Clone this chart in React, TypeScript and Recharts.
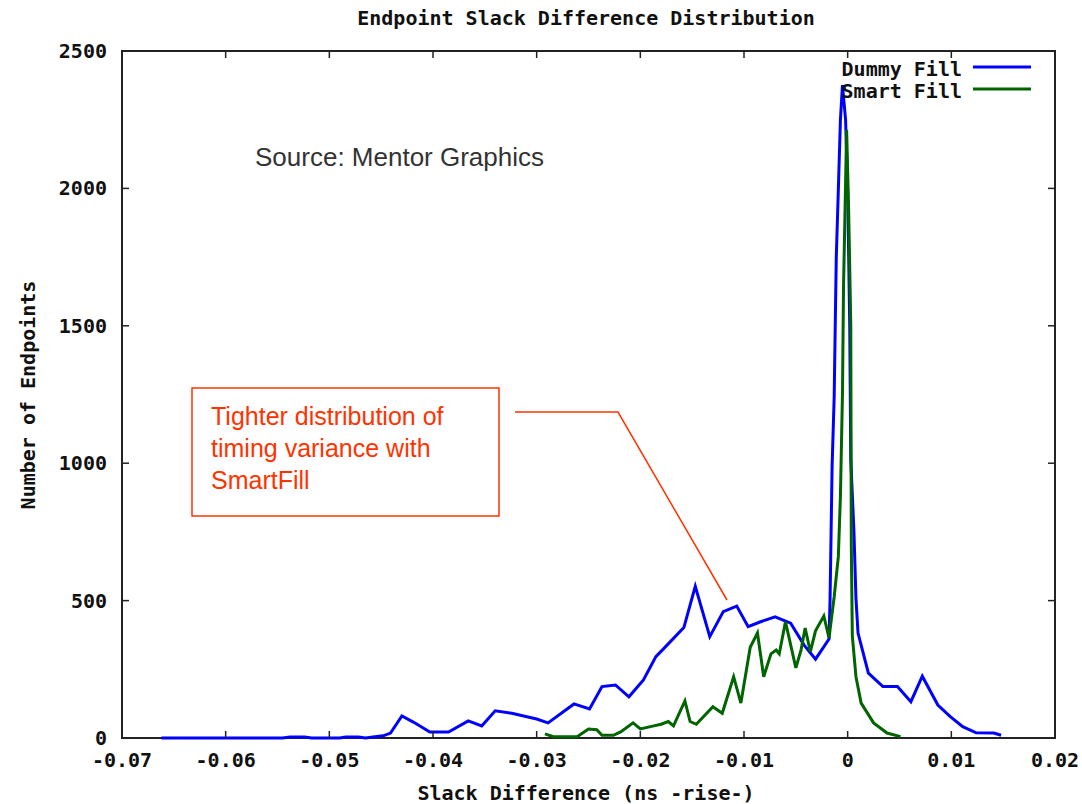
import { LineChart, Line, XAxis, YAxis, ReferenceArea } from "recharts";

// Dummy Fill (blue) – slack difference (ns) and endpoint count
const dummyX = [
  -0.0662, -0.0545, -0.0538, -0.0524, -0.0517, -0.049, -0.0484, -0.0472, -0.0465, -0.0458,
  -0.0448, -0.0441, -0.043, -0.0419, -0.0403, -0.0385, -0.0366, -0.0353, -0.034, -0.0324,
  -0.03, -0.0289, -0.0264, -0.0249, -0.0237, -0.0224, -0.0211, -0.0197, -0.0185, -0.0177,
  -0.0158, -0.0147, -0.0133, -0.012, -0.0107, -0.0096, -0.0084, -0.007, -0.0055, -0.0042,
  -0.0031, -0.0018, -0.0017, -0.0016, -0.0015, -0.0013, -0.0012, -0.0011, -0.0009, -0.0007,
  -0.0005, -0.0002, 0.0, 0.0002, 0.0003, 0.0006, 0.0008, 0.001, 0.002, 0.0034,
  0.0048, 0.0061, 0.0072, 0.0087, 0.0099, 0.0111, 0.0124, 0.0141, 0.0148,
];
const dummyY = [
  0, 0, 4, 4, 0, 0, 4, 4, 0, 4,
  8, 18, 80, 58, 22, 22, 62, 44, 99, 90,
  69, 55, 124, 106, 187, 193, 150, 211, 296, 327,
  402, 552, 369, 460, 480, 405, 423, 441, 418, 338,
  287, 360, 500, 746, 990, 1242, 1497, 1747, 1994, 2249,
  2376, 2249, 1994, 1500, 1012, 757, 509, 382, 236, 187,
  187, 132, 225, 120, 78, 41, 19, 18, 10,
];

// Smart Fill (green)
const smartX = [
  -0.0292, -0.0284, -0.0261, -0.025, -0.0242, -0.0237, -0.0226, -0.0219, -0.0207, -0.02,
  -0.0187, -0.018, -0.0173, -0.0168, -0.0157, -0.0152, -0.0146, -0.013, -0.0121, -0.011,
  -0.0103, -0.0094, -0.0087, -0.0081, -0.0074, -0.0069, -0.0066, -0.006, -0.005, -0.0045,
  -0.0041, -0.0036, -0.0031, -0.0023, -0.0018, -0.0013, -0.0012, -0.0009, -0.0007, -0.0005,
  -0.0004, -0.0001, 0.0001, 0.0003, 0.00035, 0.00045, 0.0008, 0.0013, 0.0025, 0.0038,
  0.0051,
];
const smartY = [
  15, 5, 5, 33, 30, 10, 10, 22, 55, 33,
  44, 50, 60, 44, 135, 60, 50, 114, 90, 223,
  127, 330, 382, 223, 306, 320, 306, 423, 255, 320,
  400, 314, 390, 444, 364, 514, 551, 660, 878, 1255,
  1642, 2212, 1910, 1503, 702, 371, 223, 127, 55, 18,
  5,
];

const xTicks = [-0.07, -0.06, -0.05, -0.04, -0.03, -0.02, -0.01, 0, 0.01, 0.02];
const yTicks = [0, 500, 1000, 1500, 2000, 2500];

const series = [
  { name: "Dummy Fill", color: "#0000ff", xs: dummyX, ys: dummyY },
  { name: "Smart Fill", color: "#006400", xs: smartX, ys: smartY },
];

const W = 1082;
const H = 804;
const PLOT_LEFT = 122;
const PLOT_RIGHT = 1055;
const PLOT_TOP = 51;
const PLOT_BOTTOM = 738;
const TICK_LEN = 7;
const MONO = '"DejaVu Sans Mono", monospace';
const SANS = '"Liberation Sans", Arial, sans-serif';
const RED = "#ff3300";

function fmtX(v: number) {
  return v === 0 ? "0" : v.toFixed(2);
}

function XTick(props: any) {
  const { x, y, payload } = props;
  return (
    <g>
      <line x1={x} x2={x} y1={PLOT_BOTTOM} y2={PLOT_BOTTOM - TICK_LEN} stroke="#222" strokeWidth={1.5} />
      <line x1={x} x2={x} y1={PLOT_TOP} y2={PLOT_TOP + TICK_LEN} stroke="#222" strokeWidth={1.5} />
      <text x={x} y={y + 29} textAnchor="middle" fontFamily={MONO} fontWeight="bold" fontSize={20} fill="#111">
        {fmtX(payload.value)}
      </text>
    </g>
  );
}

function YTick(props: any) {
  const { x, y, payload } = props;
  return (
    <g>
      <line x1={PLOT_LEFT} x2={PLOT_LEFT + TICK_LEN} y1={y} y2={y} stroke="#222" strokeWidth={1.5} />
      <line x1={PLOT_RIGHT} x2={PLOT_RIGHT - TICK_LEN} y1={y} y2={y} stroke="#222" strokeWidth={1.5} />
      <text x={x - 15} y={y + 7} textAnchor="end" fontFamily={MONO} fontWeight="bold" fontSize={20} fill="#111">
        {payload.value}
      </text>
    </g>
  );
}

export default function App() {
  return (
    <div style={{ position: "fixed", left: 0, top: 0, width: W, height: H, background: "#fff" }}>
      <LineChart width={W} height={H} margin={{ top: PLOT_TOP, right: W - PLOT_RIGHT, bottom: 0, left: 0 }}>
        <XAxis
          dataKey="x"
          type="number"
          domain={[-0.07, 0.02]}
          ticks={xTicks}
          allowDataOverflow
          height={H - PLOT_BOTTOM}
          axisLine={false}
          tickLine={false}
          tickSize={0}
          tickMargin={0}
          tick={<XTick />}
          interval={0}
        />
        <YAxis
          type="number"
          domain={[0, 2500]}
          ticks={yTicks}
          width={PLOT_LEFT}
          axisLine={false}
          tickLine={false}
          tickSize={0}
          tickMargin={0}
          tick={<YTick />}
          interval={0}
        />
        <ReferenceArea
          x1={-0.07}
          x2={0.02}
          y1={0}
          y2={2500}
          fill="none"
          fillOpacity={0}
          stroke="#222"
          strokeWidth={2}
        />
        {series.map((s) => (
          <Line
            key={s.name}
            name={s.name}
            data={s.xs.map((x, i) => ({ x, y: s.ys[i] }))}
            dataKey="y"
            type="linear"
            stroke={s.color}
            strokeWidth={3}
            dot={false}
            activeDot={false}
            isAnimationActive={false}
          />
        ))}
      </LineChart>
      <svg
        width={W}
        height={H}
        style={{ position: "absolute", left: 0, top: 0, pointerEvents: "none" }}
      >
        <text x={586} y={25} textAnchor="middle" fontFamily={MONO} fontWeight="bold" fontSize={20} fill="#111">
          Endpoint Slack Difference Distribution
        </text>
        <text x={586} y={800} textAnchor="middle" fontFamily={MONO} fontWeight="bold" fontSize={20} fill="#111">
          Slack Difference (ns -rise-)
        </text>
        <text
          x={0}
          y={0}
          transform="translate(35 395) rotate(-90)"
          textAnchor="middle"
          fontFamily={MONO}
          fontWeight="bold"
          fontSize={20}
          fill="#111"
        >
          Number of Endpoints
        </text>
        {series.map((s, i) => (
          <g key={s.name}>
            <text x={962} y={76 + i * 22} textAnchor="end" fontFamily={MONO} fontWeight="bold" fontSize={20} fill="#111">
              {s.name}
            </text>
            <line x1={973} x2={1031} y1={67 + i * 22} y2={67 + i * 22} stroke={s.color} strokeWidth={3} />
          </g>
        ))}
        <text x={255} y={166} fontFamily={SANS} fontSize={26} fill="#333">
          Source: Mentor Graphics
        </text>
        <rect x={192} y={388} width={307} height={128} fill="#fff" stroke={RED} strokeWidth={1.5} />
        <text fontFamily={SANS} fontSize={25} fill={RED}>
          <tspan x={211} y={425}>Tighter distribution of</tspan>
          <tspan x={211} y={457}>timing variance with</tspan>
          <tspan x={211} y={489}>SmartFill</tspan>
        </text>
        <polyline points="515,412 618,412 727,600" fill="none" stroke={RED} strokeWidth={1.5} />
      </svg>
    </div>
  );
}
